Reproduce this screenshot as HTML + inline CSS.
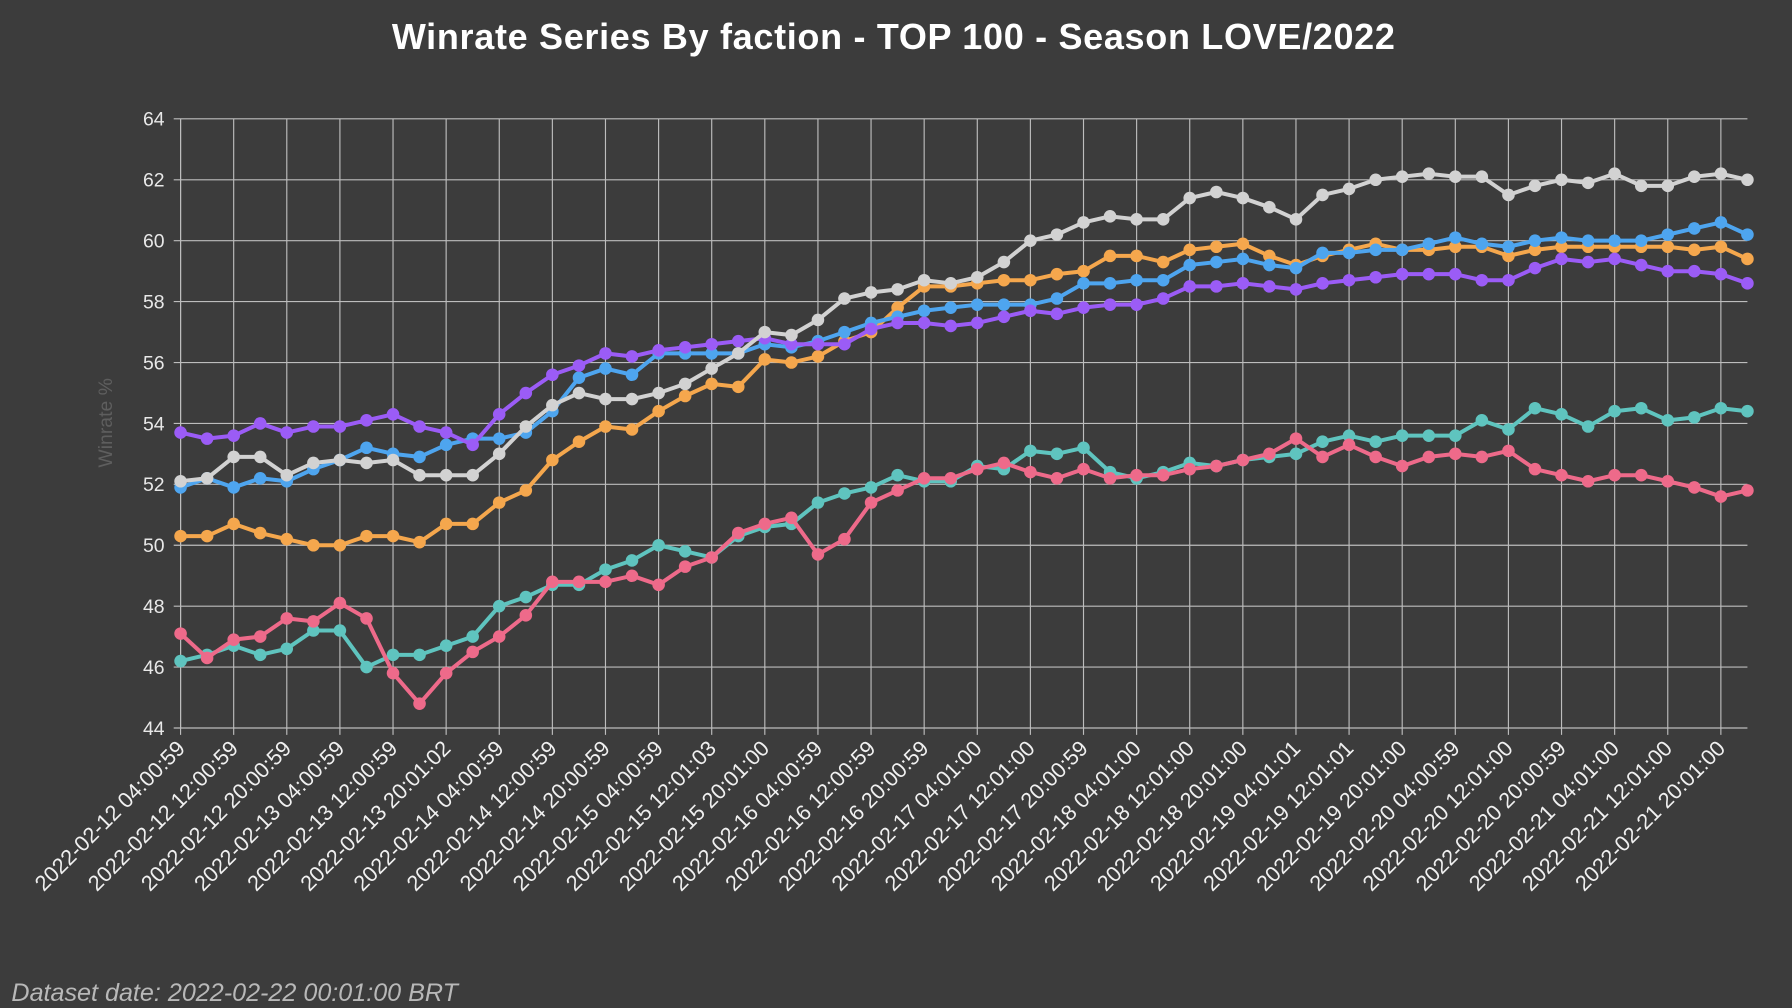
<!DOCTYPE html>
<html><head><meta charset="utf-8"><style>
html,body{margin:0;padding:0;background:#3c3c3c;}
svg{display:block;}
</style></head><body>
<svg id="c" width="1792" height="1008" viewBox="0 0 1568 882" xmlns="http://www.w3.org/2000/svg">
<rect width="1568" height="882" fill="#3c3c3c"/>
<text x="782" y="43" text-anchor="middle" fill="#ffffff" font-family="Liberation Sans, sans-serif" font-size="31.5" font-weight="bold" letter-spacing="0.6">Winrate Series By faction - TOP 100 - Season LOVE/2022</text>
<text x="10" y="876" fill="#b8b8b8" font-style="italic" font-family="Liberation Sans, sans-serif" font-size="22">Dataset date: 2022-02-22 00:01:00 BRT</text>
<text transform="translate(98,370) rotate(-90)" text-anchor="middle" fill="#5e5e5e" font-family="Liberation Sans, sans-serif" font-size="17">Winrate %</text>
<g id="g"></g>
</svg>
<script>
var L=158,R=1529,T=104,B=637,N=60,dx=(R-L)/(N-1);
function X(i){return L+i*dx;}function Y(v){return T+(64-v)*(B-T)/20;}
var s='';
for(var v=44;v<=64;v+=2){var y=Y(v);s+='<line x1="'+(L-6)+'" x2="'+R+'" y1="'+y+'" y2="'+y+'" stroke="#bdbdbd" stroke-width="1"/>';
s+='<text x="'+(L-14)+'" y="'+(y+6)+'" text-anchor="end" fill="#e8e8e8" font-family="Liberation Sans, sans-serif" font-size="17">'+v+'</text>';}
var labs=["2022-02-12 04:00:59","2022-02-12 12:00:59","2022-02-12 20:00:59","2022-02-13 04:00:59","2022-02-13 12:00:59","2022-02-13 20:01:02","2022-02-14 04:00:59","2022-02-14 12:00:59","2022-02-14 20:00:59","2022-02-15 04:00:59","2022-02-15 12:01:03","2022-02-15 20:01:00","2022-02-16 04:00:59","2022-02-16 12:00:59","2022-02-16 20:00:59","2022-02-17 04:01:00","2022-02-17 12:01:00","2022-02-17 20:00:59","2022-02-18 04:01:00","2022-02-18 12:01:00","2022-02-18 20:01:00","2022-02-19 04:01:01","2022-02-19 12:01:01","2022-02-19 20:01:00","2022-02-20 04:00:59","2022-02-20 12:01:00","2022-02-20 20:00:59","2022-02-21 04:01:00","2022-02-21 12:01:00","2022-02-21 20:01:00"];
for(var k=0;k<30;k++){var x=X(2*k);s+='<line x1="'+x+'" x2="'+x+'" y1="'+T+'" y2="'+(B+6)+'" stroke="#bdbdbd" stroke-width="1"/>';
s+='<text transform="translate('+(x+5)+','+(B+19)+') rotate(-45)" text-anchor="end" fill="#f0f0f0" font-family="Liberation Sans, sans-serif" font-size="19">'+labs[k]+'</text>';}
s+='<line x1="'+L+'" x2="'+L+'" y1="'+T+'" y2="'+B+'" stroke="#bdbdbd"/>';
var D={
"#d2d2d2":[52.1,52.2,52.9,52.9,52.3,52.7,52.8,52.7,52.8,52.3,52.3,52.3,53.0,53.9,54.6,55.0,54.8,54.8,55.0,55.3,55.8,56.3,57.0,56.9,57.4,58.1,58.3,58.4,58.7,58.6,58.8,59.3,60.0,60.2,60.6,60.8,60.7,60.7,61.4,61.6,61.4,61.1,60.7,61.5,61.7,62.0,62.1,62.2,62.1,62.1,61.5,61.8,62.0,61.9,62.2,61.8,61.8,62.1,62.2,62.0],
"#4ea5ef":[51.9,52.2,51.9,52.2,52.1,52.5,52.8,53.2,53.0,52.9,53.3,53.5,53.5,53.7,54.4,55.5,55.8,55.6,56.3,56.3,56.3,56.3,56.6,56.5,56.7,57.0,57.3,57.5,57.7,57.8,57.9,57.9,57.9,58.1,58.6,58.6,58.7,58.7,59.2,59.3,59.4,59.2,59.1,59.6,59.6,59.7,59.7,59.9,60.1,59.9,59.8,60.0,60.1,60.0,60.0,60.0,60.2,60.4,60.6,60.2],
"#f5a74d":[50.3,50.3,50.7,50.4,50.2,50.0,50.0,50.3,50.3,50.1,50.7,50.7,51.4,51.8,52.8,53.4,53.9,53.8,54.4,54.9,55.3,55.2,56.1,56.0,56.2,56.7,57.0,57.8,58.5,58.5,58.6,58.7,58.7,58.9,59.0,59.5,59.5,59.3,59.7,59.8,59.9,59.5,59.2,59.5,59.7,59.9,59.7,59.7,59.8,59.8,59.5,59.7,59.8,59.8,59.8,59.8,59.8,59.7,59.8,59.4],
"#9b5cf6":[53.7,53.5,53.6,54.0,53.7,53.9,53.9,54.1,54.3,53.9,53.7,53.3,54.3,55.0,55.6,55.9,56.3,56.2,56.4,56.5,56.6,56.7,56.8,56.6,56.6,56.6,57.1,57.3,57.3,57.2,57.3,57.5,57.7,57.6,57.8,57.9,57.9,58.1,58.5,58.5,58.6,58.5,58.4,58.6,58.7,58.8,58.9,58.9,58.9,58.7,58.7,59.1,59.4,59.3,59.4,59.2,59.0,59.0,58.9,58.6],
"#5fc4bf":[46.2,46.4,46.7,46.4,46.6,47.2,47.2,46.0,46.4,46.4,46.7,47.0,48.0,48.3,48.7,48.7,49.2,49.5,50.0,49.8,49.6,50.3,50.6,50.7,51.4,51.7,51.9,52.3,52.1,52.1,52.6,52.5,53.1,53.0,53.2,52.4,52.2,52.4,52.7,52.6,52.8,52.9,53.0,53.4,53.6,53.4,53.6,53.6,53.6,54.1,53.8,54.5,54.3,53.9,54.4,54.5,54.1,54.2,54.5,54.4],
"#ee6a8a":[47.1,46.3,46.9,47.0,47.6,47.5,48.1,47.6,45.8,44.8,45.8,46.5,47.0,47.7,48.8,48.8,48.8,49.0,48.7,49.3,49.6,50.4,50.7,50.9,49.7,50.2,51.4,51.8,52.2,52.2,52.5,52.7,52.4,52.2,52.5,52.2,52.3,52.3,52.5,52.6,52.8,53.0,53.5,52.9,53.3,52.9,52.6,52.9,53.0,52.9,53.1,52.5,52.3,52.1,52.3,52.3,52.1,51.9,51.6,51.8]};
var order=["#5fc4bf","#ee6a8a","#f5a74d","#4ea5ef","#9b5cf6","#d2d2d2"];
order.forEach(function(c){var a=D[c],p='';for(var i=0;i<N;i++)p+=(i?'L':'M')+X(i).toFixed(1)+' '+Y(a[i]).toFixed(1);
s+='<path d="'+p+'" fill="none" stroke="'+c+'" stroke-width="3.5" stroke-linejoin="round"/>';
for(var i=0;i<N;i++)s+='<circle cx="'+X(i).toFixed(1)+'" cy="'+Y(a[i]).toFixed(1)+'" r="5.5" fill="'+c+'"/>';});
document.getElementById('g').innerHTML=s;
</script>
</body></html>
